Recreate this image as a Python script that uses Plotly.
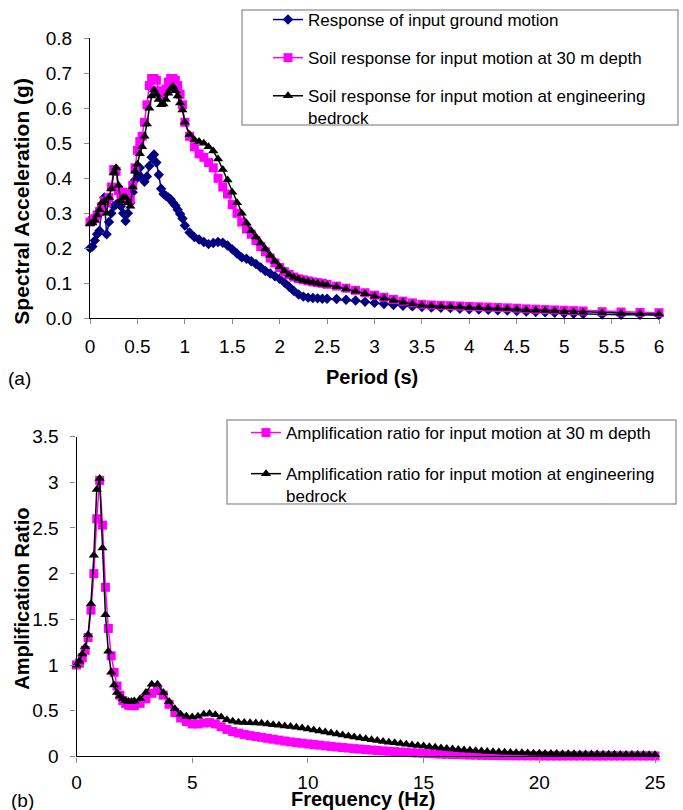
import plotly.graph_objects as go

# ---------------- (a) response spectra ----------------
PERIOD = [0.000, 0.025, 0.050, 0.075, 0.100, 0.125, 0.150, 0.175, 0.200, 0.225,
          0.250, 0.275, 0.300, 0.325, 0.350, 0.375, 0.400, 0.425, 0.450, 0.475,
          0.500, 0.525, 0.550, 0.575, 0.600, 0.625, 0.650, 0.675, 0.700, 0.725,
          0.750, 0.775, 0.800, 0.825, 0.850, 0.875, 0.900, 0.925, 0.950, 0.975, 1.000,
          1.05, 1.10, 1.15, 1.20, 1.25, 1.30, 1.35, 1.40, 1.45, 1.50,
          1.55, 1.60, 1.65, 1.70, 1.75, 1.80, 1.85, 1.90, 1.95, 2.00,
          2.05, 2.10, 2.15, 2.20, 2.25, 2.30, 2.35, 2.40, 2.45, 2.50,
          2.6, 2.7, 2.8, 2.9, 3.0, 3.1, 3.2, 3.3, 3.4, 3.5,
          3.6, 3.7, 3.8, 3.9, 4.0, 4.1, 4.2, 4.3, 4.4, 4.5,
          4.6, 4.7, 4.8, 4.9, 5.0, 5.1, 5.2,
          5.4, 5.6, 5.8, 6.0]

SA_INPUT = [0.200, 0.205, 0.222, 0.240, 0.250, 0.320, 0.345, 0.240, 0.275, 0.300,
            0.320, 0.325, 0.330, 0.320, 0.300, 0.278, 0.300, 0.330, 0.360, 0.395,
            0.415, 0.430, 0.400, 0.390, 0.405, 0.435, 0.460, 0.468, 0.445, 0.410,
            0.370, 0.355, 0.350, 0.345, 0.340, 0.330, 0.322, 0.310, 0.298, 0.285, 0.265,
            0.245, 0.232, 0.225, 0.218, 0.212, 0.215, 0.218, 0.216, 0.208, 0.197,
            0.185, 0.174, 0.170, 0.163, 0.155, 0.145, 0.135, 0.128, 0.120, 0.113,
            0.102, 0.090, 0.078, 0.068, 0.062, 0.059, 0.058, 0.057, 0.056, 0.056,
            0.055, 0.053, 0.051, 0.047, 0.044, 0.041, 0.038, 0.036, 0.034, 0.032,
            0.031, 0.030, 0.029, 0.027, 0.026, 0.025, 0.024, 0.023, 0.022, 0.021,
            0.019, 0.018, 0.017, 0.016, 0.014, 0.013, 0.012,
            0.011, 0.010, 0.010, 0.009]

SA_30M = [0.275, 0.280, 0.285, 0.295, 0.305, 0.320, 0.335, 0.330, 0.345, 0.375,
          0.425, 0.420, 0.365, 0.355, 0.360, 0.355, 0.345, 0.340, 0.380, 0.430,
          0.480, 0.505, 0.520, 0.560, 0.610, 0.665, 0.685, 0.685, 0.680, 0.650,
          0.640, 0.640, 0.655, 0.675, 0.685, 0.685, 0.680, 0.665, 0.640, 0.610, 0.560,
          0.520, 0.490, 0.470, 0.460, 0.445, 0.430, 0.400, 0.375, 0.355, 0.325,
          0.300, 0.275, 0.255, 0.240, 0.222, 0.205, 0.190, 0.172, 0.158, 0.145,
          0.133, 0.125, 0.118, 0.113, 0.110, 0.107, 0.104, 0.102, 0.100, 0.097,
          0.092, 0.086, 0.080, 0.073, 0.066, 0.060, 0.054, 0.049, 0.044, 0.040,
          0.038, 0.037, 0.036, 0.035, 0.034, 0.033, 0.032, 0.031, 0.030, 0.029,
          0.027, 0.026, 0.025, 0.024, 0.023, 0.022, 0.021,
          0.019, 0.018, 0.017, 0.016]

SA_BEDROCK = [0.270, 0.272, 0.280, 0.295, 0.310, 0.330, 0.335, 0.300, 0.345, 0.370,
              0.415, 0.430, 0.380, 0.335, 0.345, 0.345, 0.330, 0.320, 0.375, 0.420,
              0.440, 0.470, 0.490, 0.520, 0.555, 0.600, 0.635, 0.652, 0.640, 0.625,
              0.610, 0.612, 0.625, 0.643, 0.655, 0.662, 0.650, 0.635, 0.615, 0.595, 0.560,
              0.525, 0.510, 0.505, 0.500, 0.490, 0.478, 0.455, 0.425, 0.395, 0.360,
              0.330, 0.300, 0.272, 0.250, 0.232, 0.215, 0.198, 0.180, 0.163, 0.147,
              0.135, 0.124, 0.117, 0.112, 0.108, 0.105, 0.102, 0.100, 0.097, 0.095,
              0.090, 0.084, 0.077, 0.070, 0.063, 0.057, 0.051, 0.046, 0.041, 0.037,
              0.035, 0.034, 0.033, 0.032, 0.031, 0.030, 0.029, 0.028, 0.027, 0.026,
              0.024, 0.023, 0.022, 0.021, 0.019, 0.018, 0.017,
              0.015, 0.014, 0.013, 0.012]

# ---------------- (b) amplification ratio ----------------
FREQ = [0.0, 0.125, 0.25, 0.375, 0.5, 0.625, 0.75, 0.875, 1.0, 1.125, 1.25,
        1.375, 1.5, 1.625, 1.75, 1.875, 2.0, 2.125, 2.25, 2.375, 2.5,
        2.75, 3.0, 3.25, 3.5, 3.75, 4.0, 4.25, 4.5, 4.75, 5.0,
        5.25, 5.5, 5.75, 6.0, 6.25, 6.5, 6.75, 7.0, 7.25, 7.5,
        7.75, 8.0, 8.25, 8.5, 8.75, 9.0, 9.25, 9.5, 9.75, 10.0,
        10.25, 10.5, 10.75, 11.0, 11.25, 11.5, 11.75, 12.0, 12.25, 12.5,
        12.75, 13.0, 13.25, 13.5, 13.75, 14.0, 14.25, 14.5, 14.75, 15.0,
        15.25, 15.5, 15.75, 16.0, 16.25, 16.5, 16.75, 17.0, 17.25, 17.5,
        17.75, 18.0, 18.25, 18.5, 18.75, 19.0, 19.25, 19.5, 19.75, 20.0,
        20.25, 20.5, 20.75, 21.0, 21.25, 21.5, 21.75, 22.0, 22.25, 22.5,
        22.75, 23.0, 23.25, 23.5, 23.75, 24.0, 24.25, 24.5, 24.75, 25.0]

AR_30M = [1.00, 1.02, 1.08, 1.16, 1.30, 1.60, 2.00, 2.60, 3.02, 2.53, 1.85,
          1.40, 1.10, 0.92, 0.77, 0.67, 0.61, 0.58, 0.56, 0.555, 0.555,
          0.58, 0.63, 0.69, 0.72, 0.67, 0.57, 0.48, 0.42, 0.38, 0.355,
          0.355, 0.365, 0.37, 0.355, 0.325, 0.295, 0.272, 0.255, 0.24, 0.228,
          0.218, 0.208, 0.198, 0.188, 0.178, 0.168, 0.159, 0.151, 0.144, 0.137,
          0.130, 0.123, 0.116, 0.109, 0.103, 0.097, 0.091, 0.085, 0.080, 0.075,
          0.070, 0.065, 0.060, 0.056, 0.052, 0.048, 0.044, 0.040, 0.037, 0.034,
          0.031, 0.028, 0.025, 0.023, 0.021, 0.019, 0.017, 0.015, 0.014, 0.012,
          0.011, 0.010, 0.009, 0.008, 0.008, 0.007, 0.007, 0.006, 0.006, 0.006,
          0.005, 0.005, 0.005, 0.005, 0.005, 0.005, 0.005, 0.005, 0.005, 0.005,
          0.005, 0.005, 0.005, 0.005, 0.005, 0.005, 0.005, 0.005, 0.005, 0.005]

AR_BEDROCK = [1.00, 1.04, 1.12, 1.20, 1.33, 1.67, 2.20, 2.92, 3.04, 2.28, 1.55,
              1.15, 0.92, 0.78, 0.70, 0.66, 0.63, 0.61, 0.60, 0.60, 0.605,
              0.63, 0.70, 0.79, 0.79, 0.70, 0.60, 0.52, 0.46, 0.44, 0.43,
              0.44, 0.46, 0.47, 0.455, 0.43, 0.40, 0.385, 0.375, 0.37, 0.368,
              0.366, 0.362, 0.355, 0.347, 0.34, 0.333, 0.326, 0.318, 0.31, 0.30,
              0.29, 0.279, 0.268, 0.257, 0.246, 0.235, 0.224, 0.213, 0.202, 0.192,
              0.182, 0.173, 0.164, 0.156, 0.148, 0.140, 0.133, 0.126, 0.119, 0.113,
              0.106, 0.099, 0.093, 0.087, 0.081, 0.076, 0.071, 0.066, 0.062, 0.058,
              0.054, 0.051, 0.048, 0.045, 0.043, 0.041, 0.039, 0.037, 0.035, 0.034,
              0.033, 0.032, 0.031, 0.030, 0.029, 0.028, 0.027, 0.026, 0.025, 0.025,
              0.024, 0.023, 0.023, 0.022, 0.021, 0.021, 0.020, 0.020, 0.019, 0.019]

PERIOD_TICKS = [0, 0.5, 1, 1.5, 2, 2.5, 3, 3.5, 4, 4.5, 5, 5.5, 6]
PERIOD_TICKTEXT = ["0", "0.5", "1", "1.5", "2", "2.5", "3", "3.5", "4", "4.5", "5", "5.5", "6"]
SA_TICKS = [0, 0.1, 0.2, 0.3, 0.4, 0.5, 0.6, 0.7, 0.8]
FREQ_TICKS = [0, 5, 10, 15, 20, 25]
AR_TICKS = [0, 0.5, 1, 1.5, 2, 2.5, 3, 3.5]
AR_TICKTEXT = ["0", "0.5", "1", "1.5", "2", "2.5", "3", "3.5"]

NAMES_A = ["Response of input ground motion",
           "Soil response for input motion at 30 m depth",
           "Soil response for input motion at engineering<br>bedrock"]
NAMES_B = ["Amplification ratio for input motion at 30 m depth",
           "Amplification ratio for input motion at engineering<br>bedrock"]

assert len(PERIOD) == len(SA_INPUT) == len(SA_30M) == len(SA_BEDROCK)
assert len(FREQ) == len(AR_30M) == len(AR_BEDROCK)

W, H = 683, 810
FONT = "Liberation Sans, Arial, Helvetica, sans-serif"
NAVY, MAGENTA, BLACK = "#000080", "#FF00FF", "#000000"


def px(x):
    return x / W


def py(y):
    return 1 - y / H


fig = go.Figure()

fig.add_trace(go.Scatter(x=PERIOD, y=SA_INPUT, name=NAMES_A[0], mode="lines+markers",
                         line=dict(color=NAVY, width=1.5),
                         marker=dict(symbol="diamond", size=8, color=NAVY),
                         xaxis="x", yaxis="y", legend="legend", legendgroup="a1",
                         cliponaxis=False))
fig.add_trace(go.Scatter(x=PERIOD, y=SA_30M, name=NAMES_A[1], mode="lines+markers",
                         line=dict(color=MAGENTA, width=1.5),
                         marker=dict(symbol="square", size=9, color=MAGENTA),
                         xaxis="x", yaxis="y", legend="legend", legendgroup="a2",
                         cliponaxis=False))
fig.add_trace(go.Scatter(x=PERIOD, y=SA_BEDROCK, name=NAMES_A[2], mode="lines+markers",
                         line=dict(color=BLACK, width=1.5),
                         marker=dict(symbol="triangle-up", size=9, color=BLACK),
                         xaxis="x", yaxis="y", legend="legend", legendgroup="a3",
                         cliponaxis=False))

fig.add_trace(go.Scatter(x=FREQ, y=AR_30M, name=NAMES_B[0], mode="lines+markers",
                         line=dict(color=MAGENTA, width=1.5),
                         marker=dict(symbol="square", size=9, color=MAGENTA),
                         xaxis="x2", yaxis="y2", legend="legend2", legendgroup="b1",
                         cliponaxis=False))
fig.add_trace(go.Scatter(x=FREQ, y=AR_BEDROCK, name=NAMES_B[1], mode="lines+markers",
                         line=dict(color=BLACK, width=1.5),
                         marker=dict(symbol="triangle-up", size=9, color=BLACK),
                         xaxis="x2", yaxis="y2", legend="legend2", legendgroup="b2",
                         cliponaxis=False))

axis_common = dict(showline=True, linecolor="#000000", linewidth=1.3,
                   ticks="outside", ticklen=5, tickwidth=1.3, tickcolor="#8a8a8a",
                   showgrid=False, zeroline=False,
                   tickfont=dict(family=FONT, size=19, color="#000000"))

fig.update_layout(
    width=W, height=H,
    margin=dict(l=0, r=0, t=0, b=0, autoexpand=False),
    paper_bgcolor="white", plot_bgcolor="white",
    font=dict(family=FONT, color="#000000"),
    showlegend=True,
    xaxis=dict(domain=[px(90), px(659)], range=[0, 6], anchor="y",
               tickvals=PERIOD_TICKS, ticktext=PERIOD_TICKTEXT,
               ticklabelstandoff=6, **axis_common),
    yaxis=dict(domain=[py(318.3), py(38.3)], range=[0, 0.8], anchor="x",
               tickvals=SA_TICKS, tickformat=".1f",
               ticklabelstandoff=8, **axis_common),
    xaxis2=dict(domain=[px(76.5), px(655)], range=[0, 25], anchor="y2",
                tickvals=FREQ_TICKS, ticklabelstandoff=4, **axis_common),
    yaxis2=dict(domain=[py(756.4), py(436.5)], range=[0, 3.5], anchor="x2",
                tickvals=AR_TICKS, ticktext=AR_TICKTEXT,
                ticklabelstandoff=8, **axis_common),
    legend=dict(x=px(268), y=py(2), xanchor="left", yanchor="top",
                bgcolor="rgba(0,0,0,0)", borderwidth=0, tracegroupgap=13,
                valign="top", traceorder="grouped",
                font=dict(family=FONT, size=17, color="#000000")),
    legend2=dict(x=px(246), y=py(415), xanchor="left", yanchor="top",
                 bgcolor="rgba(0,0,0,0)", borderwidth=0, tracegroupgap=16,
                 valign="top", traceorder="grouped",
                 font=dict(family=FONT, size=17, color="#000000")),
    shapes=[
        dict(type="rect", xref="paper", yref="paper",
             x0=px(242), x1=px(678), y0=py(125), y1=py(10),
             line=dict(color="#a0a0a0", width=1.5), fillcolor="rgba(0,0,0,0)",
             layer="below"),
        dict(type="rect", xref="paper", yref="paper",
             x0=px(227), x1=px(676), y0=py(504), y1=py(420),
             line=dict(color="#a0a0a0", width=1.5), fillcolor="rgba(0,0,0,0)",
             layer="below"),
    ],
    annotations=[
        dict(text="Spectral Acceleration (g)", x=px(21.7), y=py(201), xref="paper", yref="paper",
             textangle=-90, showarrow=False, xanchor="center", yanchor="middle",
             font=dict(family=FONT, size=21, weight="bold")),
        dict(text="Period (s)", x=px(372), y=py(377), xref="paper", yref="paper",
             showarrow=False, xanchor="center", yanchor="middle",
             font=dict(family=FONT, size=20, weight="bold")),
        dict(text="(a)", x=px(19), y=py(378), xref="paper", yref="paper",
             showarrow=False, xanchor="center", yanchor="middle",
             font=dict(family=FONT, size=19)),
        dict(text="Amplification Ratio", x=px(21.7), y=py(599), xref="paper", yref="paper",
             textangle=-90, showarrow=False, xanchor="center", yanchor="middle",
             font=dict(family=FONT, size=20, weight="bold")),
        dict(text="Frequency (Hz)", x=px(363), y=py(799), xref="paper", yref="paper",
             showarrow=False, xanchor="center", yanchor="middle",
             font=dict(family=FONT, size=20, weight="bold")),
        dict(text="(b)", x=px(22), y=py(800), xref="paper", yref="paper",
             showarrow=False, xanchor="center", yanchor="middle",
             font=dict(family=FONT, size=19)),
    ],
)

# remove the browser's default 8px page margin so the 683x810 figure fills the window exactly
fig.write_html("out.html",
               config={"displayModeBar": False},
               post_script="document.body.style.margin='0';document.body.style.overflow='hidden';")
